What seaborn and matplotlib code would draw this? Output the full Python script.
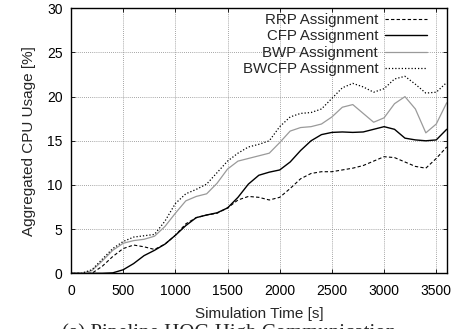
import numpy as np
import pandas as pd
import seaborn as sns
import matplotlib
matplotlib.use("Agg")
import matplotlib.pyplot as plt

# ---- data ----
time_s = list(range(0, 3700, 100))
rrp = [0, 0, 0, 0.8, 1.9, 2.8, 3.2, 3.0, 2.7, 3.3, 4.3, 5.6, 6.3, 6.6, 6.8, 7.4,
       8.3, 8.7, 8.6, 8.3, 8.6, 9.6, 10.7, 11.3, 11.5, 11.5, 11.7, 11.9, 12.2,
       12.7, 13.2, 13.1, 12.6, 12.1, 11.9, 13.0, 14.3]
cfp = [0, 0, 0, 0, 0.05, 0.4, 1.1, 2.0, 2.6, 3.3, 4.3, 5.4, 6.3, 6.6, 6.85, 7.4,
       8.6, 10.1, 11.1, 11.45, 11.7, 12.6, 13.9, 15.0, 15.7, 15.95, 16.0, 15.95,
       16.0, 16.3, 16.6, 16.3, 15.3, 15.1, 15.0, 15.1, 16.3]
bwp = [0, 0, 0.3, 1.4, 2.6, 3.4, 3.7, 3.85, 4.2, 5.3, 6.8, 8.2, 8.7, 9.0, 10.2,
       11.8, 12.7, 13.0, 13.3, 13.6, 14.8, 16.1, 16.5, 16.6, 16.9, 17.7, 18.8,
       19.1, 18.1, 17.1, 17.6, 19.2, 20.0, 18.6, 15.9, 16.9, 19.3]
bwcfp = [0, 0, 0.4, 1.6, 2.8, 3.6, 4.1, 4.25, 4.4, 5.9, 7.9, 9.0, 9.5, 10.1,
         11.4, 12.7, 13.6, 14.3, 14.6, 15.0, 16.6, 17.7, 18.1, 18.2, 18.6, 19.8,
         21.0, 21.5, 21.1, 20.5, 20.9, 22.0, 22.3, 21.4, 20.4, 20.5, 21.6]
series_names = ["RRP Assignment", "CFP Assignment", "BWP Assignment", "BWCFP Assignment"]
x_ticks = [0, 500, 1000, 1500, 2000, 2500, 3000, 3500]
y_ticks = [0, 5, 10, 15, 20, 25, 30]
caption = "(a) Pipeline HOG High Communication"

sns.set_theme(style="ticks")
plt.rcParams["font.family"] = ["Liberation Sans", "DejaVu Sans"]

fig = plt.figure(figsize=(4.56, 3.29), dpi=100)
ax = fig.add_axes([0.1557, 0.1693, 0.8239, 0.8055])

styles = [
    dict(color="black", linestyle=(0, (3, 2)), linewidth=0.8),
    dict(color="black", linestyle="-", linewidth=1.0),
    dict(color="#9a9a9a", linestyle="-", linewidth=0.9),
    dict(color="black", linestyle=(0, (1, 1.6)), linewidth=0.9),
]
for name, vals, st in zip(series_names, [rrp, cfp, bwp, bwcfp], styles):
    df = pd.DataFrame({"t": time_s, "v": vals})
    sns.lineplot(data=df, x="t", y="v", ax=ax, label=name, **st)

ax.set_xlim(0, 3600)
ax.set_ylim(0, 30)
ax.set_xticks(x_ticks)
ax.set_yticks(y_ticks)
ax.grid(True, color="#888888", linestyle=(0, (1, 1.5)), linewidth=0.6)
ax.tick_params(direction="in", length=3, width=0.6, top=True, right=True,
               labelsize=10, colors="black")
ax.tick_params(axis="x", pad=7.5)
ax.tick_params(axis="y", pad=6)
for s in ax.spines.values():
    s.set_color("black")
    s.set_linewidth(1.0)

ax.set_xlabel("Simulation Time [s]", fontsize=11, labelpad=7)
ax.set_ylabel("Aggregated CPU Usage [%]", fontsize=11, labelpad=8)

leg = ax.legend(loc="upper right", frameon=False, markerfirst=False,
                fontsize=10.8, handlelength=2.8, handletextpad=0.45,
                labelspacing=0.16, borderaxespad=0.0, borderpad=0.4,
                bbox_to_anchor=(0.9635, 1.005))

fig.text(0.136, 0.018, caption, ha="left", va="top",
         fontsize=15, family=["Liberation Serif", "DejaVu Serif"])

fig.savefig("out.png", dpi=100)
